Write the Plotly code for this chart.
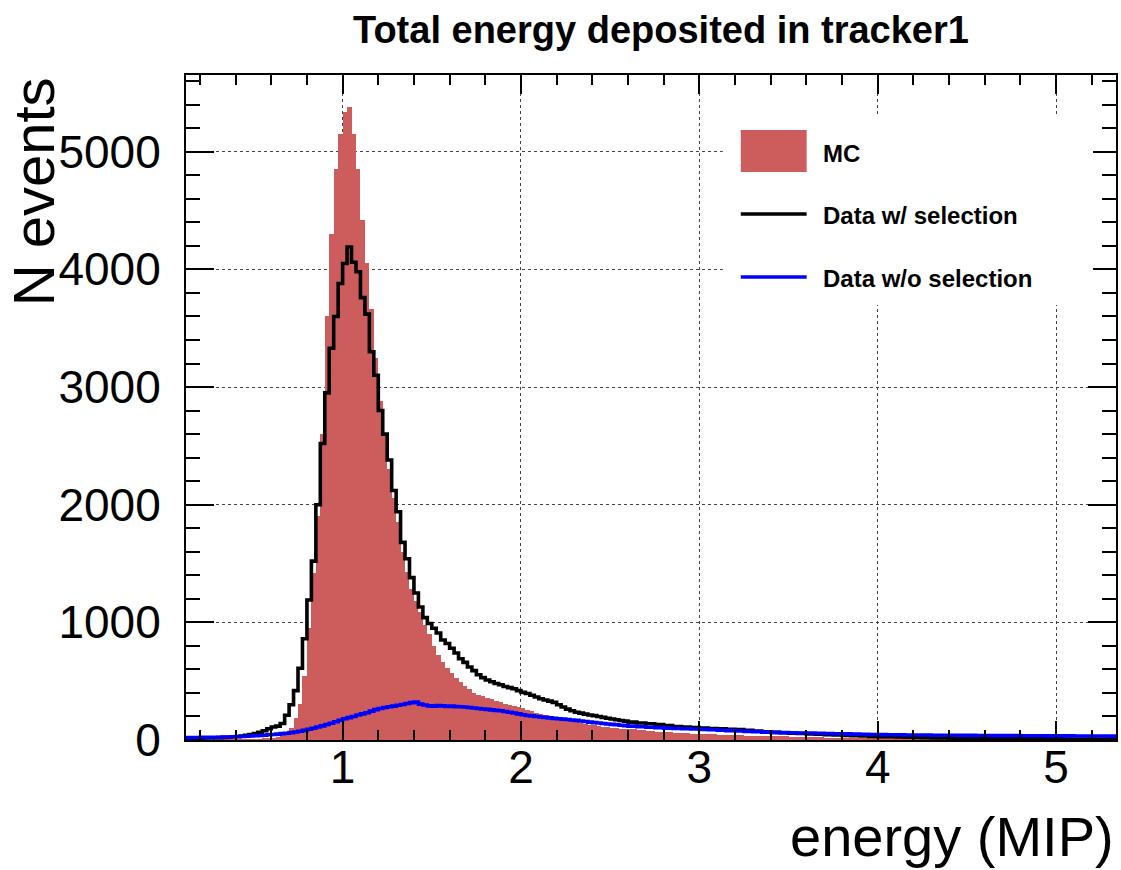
import numpy as np
import plotly.graph_objects as go

# ---------------- data ----------------
# binning: fine bins of 0.025 MIP from 0.1 to 2.6, coarse bins of 0.05 MIP from 2.6 to 5.35
fine_start, fine_width, n_fine = 0.1, 0.025, 100
coarse_start, coarse_width, n_coarse = 2.6, 0.05, 55

mc_fine = [0, 0, 0, 0, 0, 0, 0, 1, 1, 1, 2, 2, 3, 3, 4, 5, 6, 8,
           10, 14, 20, 28, 42, 65, 105, 185, 310, 540,
           950, 1420, 1900, 2600, 3600, 4300, 4850, 5150, 5340, 5380,
           5150, 4850, 4420, 4050, 3660, 3250, 2880, 2600, 2300, 2060,
           1850, 1600, 1430, 1280, 1180, 1090, 980, 900, 800, 720,
           660, 610, 570, 530, 490, 460, 430, 400, 385, 370,
           355, 345, 335, 325, 310, 300, 290, 280, 268, 255,
           245, 232, 220, 210, 198, 188, 180, 172, 165, 158,
           150, 143, 137, 130, 125, 119, 114, 110, 105, 100,
           97, 93]
mc_coarse = [90, 84, 78, 72, 66, 61, 57, 53, 50, 47,
             44, 42, 40, 38, 36, 34, 32, 30, 28, 26,
             24, 22, 20, 19, 18, 17, 16, 15, 14, 13,
             12, 11, 10, 10, 9, 9, 8, 8, 7, 7,
             6, 6, 6, 5, 5, 5, 4, 4, 4, 3,
             3, 3, 3, 2, 2]

sel_fine = [12, 13, 14, 15, 16, 17, 18, 19, 20, 22,
            24, 27, 30, 34, 40, 46, 55, 65, 78, 95,
            110, 118, 140, 210, 300, 420, 610, 860, 1190, 1520,
            2000, 2520, 2950, 3330, 3600, 3880, 4050, 4190, 4060, 3980,
            3760, 3620, 3300, 3100, 2800, 2600, 2380, 2120, 1940, 1680,
            1540, 1380, 1250, 1130, 1040, 990, 950, 910, 850, 820,
            780, 740, 690, 660, 620, 590, 555, 530, 510, 495,
            480, 470, 455, 445, 435, 420, 405, 395, 380, 365,
            350, 340, 330, 320, 300, 280, 262, 248, 236, 228,
            220, 213, 207, 200, 192, 185, 178, 172, 166, 160]
sel_coarse = [152, 145, 138, 132, 122, 115, 110, 106, 102, 98,
              95, 92, 88, 82, 76, 70, 65, 62, 58, 55,
              52, 49, 46, 42, 39, 36, 34, 31, 29, 27,
              25, 23, 21, 19, 18, 17, 16, 15, 14, 14,
              13, 13, 12, 12, 11, 11, 10, 10, 10, 9,
              9, 9, 8, 8, 8]

nosel_fine = [20, 20, 21, 21, 22, 22, 23, 23, 24, 25,
              25, 27, 28, 30, 32, 34, 36, 38, 41, 44,
              47, 50, 54, 58, 63, 68, 75, 82, 92, 100,
              110, 120, 132, 142, 155, 168, 180, 190, 200, 212,
              222, 232, 245, 258, 268, 276, 282, 288, 295, 302,
              310, 318, 322, 305, 298, 290, 288, 292, 290, 286,
              288, 284, 283, 280, 276, 272, 268, 264, 260, 256,
              252, 248, 242, 236, 230, 222, 214, 208, 205, 200,
              196, 192, 188, 184, 180, 177, 174, 170, 167, 162,
              157, 152, 148, 144, 140, 136, 133, 130, 126, 122]
nosel_coarse = [118, 112, 108, 105, 101, 98, 95, 93, 90, 87,
                83, 80, 77, 73, 70, 67, 65, 63, 61, 60,
                59, 57, 55, 53, 52, 50, 49, 47, 46, 45,
                44, 43, 42, 42, 41, 40, 40, 39, 39, 38,
                38, 37, 37, 37, 36, 36, 36, 35, 35, 35,
                34, 34, 34, 34, 33]

series_names = ["MC", "Data w/ selection", "Data w/o selection"]
title_text = "Total energy deposited in tracker1"
x_title = "energy (MIP)"
y_title = "N events"
x_ticks = [1, 2, 3, 4, 5]
y_ticks = [0, 1000, 2000, 3000, 4000, 5000]

# ---------------- derived ----------------
edges = np.concatenate([fine_start + fine_width * np.arange(n_fine),
                        coarse_start + coarse_width * np.arange(n_coarse + 1)])
widths = np.diff(edges)
centers = edges[:-1] + widths / 2
mc = np.array(mc_fine + mc_coarse, dtype=float)
sel = np.array(sel_fine + sel_coarse, dtype=float)
nosel = np.array(nosel_fine + nosel_coarse, dtype=float)
assert len(mc) == len(centers) == len(sel) == len(nosel)

W, H = 1121, 870
L, R, T, B = 186, 1118, 75, 740
def px(x):
    return (x - L) / (R - L)
def py(y):
    return (B - y) / (B - T)

FONT = "Liberation Sans, Arial, Helvetica, sans-serif"
RED = "#cd5c5c"

fig = go.Figure()
fig.add_trace(go.Bar(x=centers, y=mc, width=widths, marker=dict(color=RED, line=dict(width=0)),
                     name=series_names[0], showlegend=False))
fig.add_trace(go.Scatter(x=edges, y=np.append(sel, sel[-1]), mode="lines", line_shape="hv",
                         line=dict(color="black", width=3.6), name=series_names[1], showlegend=False))
fig.add_trace(go.Scatter(x=edges, y=np.append(nosel, nosel[-1]), mode="lines", line_shape="hv",
                         line=dict(color="#0000ff", width=3.6), name=series_names[2], showlegend=False))

axis_common = dict(showline=True, linecolor="black", linewidth=2, mirror="allticks",
                   ticks="inside", tickwidth=2, tickcolor="black",
                   showgrid=True, gridcolor="#444444", gridwidth=1, griddash="dot",
                   zeroline=False, tickfont=dict(family=FONT, size=46, color="black"))

fig.update_layout(
    width=W, height=H,
    margin=dict(l=L, r=W - R, t=T, b=H - B, pad=0),
    paper_bgcolor="white", plot_bgcolor="white",
    bargap=0, barmode="overlay",
    showlegend=False,
    xaxis=dict(range=[0.122, 5.336], tickmode="array", tickvals=x_ticks,
               ticktext=[str(v) for v in x_ticks], ticklen=19, ticklabelstandoff=-14,
               minor=dict(dtick=0.2, tick0=0, ticklen=10, tickwidth=2, tickcolor="black",
                          ticks="inside", showgrid=False),
               **axis_common),
    yaxis=dict(range=[0, 5652], tickmode="array", tickvals=y_ticks,
               ticktext=[str(v) for v in y_ticks], ticklen=28, ticklabelstandoff=14,
               minor=dict(dtick=200, tick0=0, ticklen=14, tickwidth=2, tickcolor="black",
                          ticks="inside", showgrid=False),
               **axis_common),
)

# legend (drawn manually, ROOT style)
shapes = [
    dict(type="rect", xref="paper", yref="paper", x0=px(724), x1=px(1095), y0=py(305), y1=py(114),
         fillcolor="white", line=dict(width=0), layer="above"),
    dict(type="rect", xref="paper", yref="paper", x0=px(742), x1=px(808), y0=py(172), y1=py(130),
         fillcolor=RED, line=dict(width=0), layer="above"),
    dict(type="line", xref="paper", yref="paper", x0=px(742), x1=px(808), y0=py(214), y1=py(214),
         line=dict(color="black", width=3.5), layer="above"),
    dict(type="line", xref="paper", yref="paper", x0=px(742), x1=px(808), y0=py(277), y1=py(277),
         line=dict(color="#0000ff", width=3.5), layer="above"),
]
fig.update_layout(shapes=shapes)

annotations = [
    dict(text="<b>%s</b>" % series_names[0], x=px(822), y=py(153)),
    dict(text="<b>%s</b>" % series_names[1], x=px(822), y=py(215)),
    dict(text="<b>%s</b>" % series_names[2], x=px(822), y=py(278)),
]
for a in annotations:
    a.update(xref="paper", yref="paper", xanchor="left", yanchor="middle", showarrow=False,
             font=dict(family=FONT, size=24, color="black"))
annotations.append(dict(text="<b>%s</b>" % title_text, xref="paper", yref="paper",
                        x=px(662), y=py(30), xanchor="center", yanchor="middle", showarrow=False,
                        font=dict(family=FONT, size=38, color="black")))
annotations.append(dict(text=x_title, xref="paper", yref="paper", x=1.0, y=py(836),
                        xanchor="right", yanchor="middle", showarrow=False,
                        font=dict(family=FONT, size=56, color="black")))
annotations.append(dict(text=y_title, xref="paper", yref="paper", x=px(33.5), y=1.0,
                        xanchor="center", yanchor="top", textangle=-90, showarrow=False,
                        font=dict(family=FONT, size=58, color="black")))
fig.update_layout(annotations=annotations)

fig.write_html("out.html")
